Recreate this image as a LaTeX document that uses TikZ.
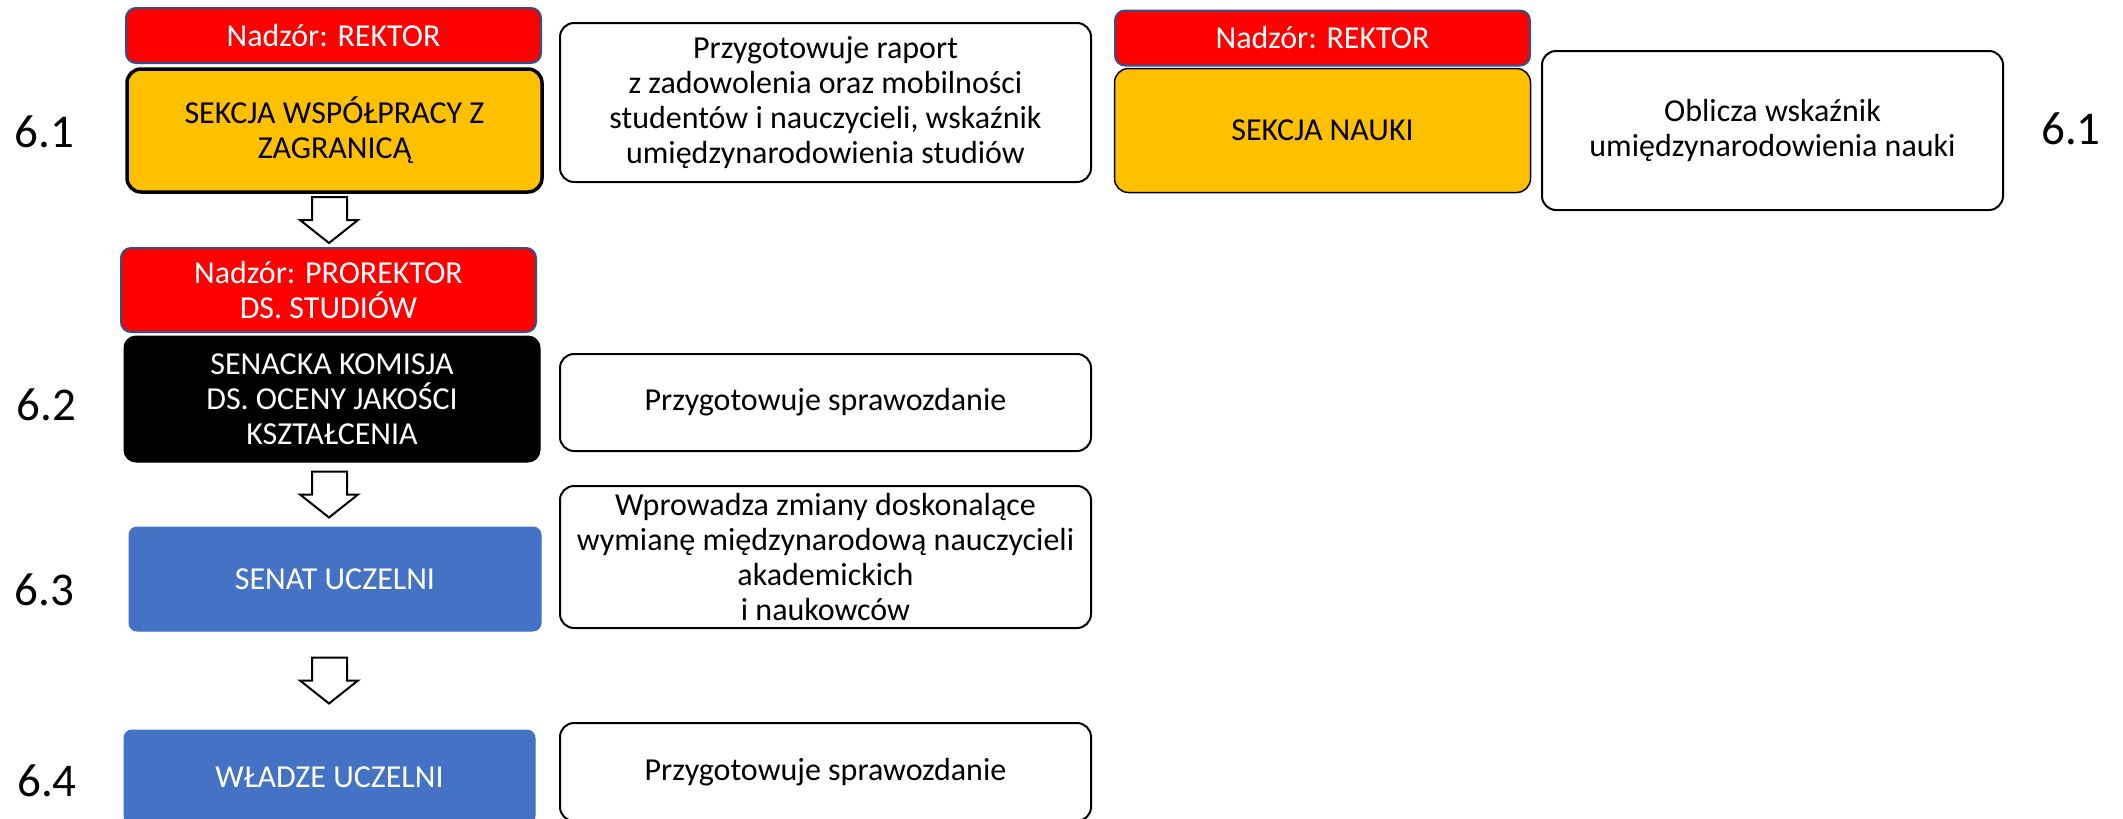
\documentclass[tikz,border=0pt]{standalone}
\usepackage{fontspec}
\setmainfont{Carlito}
\usetikzlibrary{calc}
\definecolor{myred}{HTML}{FF0000}
\definecolor{myyellow}{HTML}{FFC000}
\definecolor{myblue}{HTML}{4472C4}
\definecolor{redborder}{HTML}{2F528F}
\newcommand\blockarrow[2]{%
  \draw[barrowst] let \p1=($(#1.south)!0.5!(#2.north)$) in
    (312pt,\y1+23pt) -- (347pt,\y1+23pt) -- (347pt,\y1) -- (358pt,\y1)
    -- (329pt,\y1-23pt) -- (300pt,\y1) -- (312pt,\y1) -- cycle;}
\begin{document}
\begin{tikzpicture}[x=1pt,y=-1pt,
  base/.style={rectangle, inner sep=0pt, outer sep=0pt, align=center,
    font=\fontsize{32}{35}\selectfont},
  supbox/.style={base, fill=myred, draw=redborder, line width=2pt, rounded corners=10pt, text=white},
  unitbox/.style={base, fill=myyellow, draw=black, rounded corners=14pt},
  commbox/.style={base, fill=black, draw=black, line width=1pt, rounded corners=12pt, text=white},
  senbox/.style={base, fill=myblue, draw=myblue, line width=1pt, rounded corners=8pt, text=white},
  taskbox/.style={base, fill=white, draw=black, line width=2pt, rounded corners=14pt},
  numlabel/.style={inner sep=0pt, font=\fontsize{47}{50}\selectfont},
  barrowst/.style={draw=black, fill=white, line width=2pt, line join=miter}]
\useasboundingbox (0,0) rectangle (2123,819);
\clip (0,0) rectangle (2123,819);
\fill[white] (0,0) rectangle (2123,819);

% left column
\node[supbox, minimum width=415pt, minimum height=55pt] (r1) at (333.5,35.5) {Nadzór: REKTOR};
\node[unitbox, line width=3.5pt, minimum width=415pt, minimum height=123pt] (y1) at (334.5,130.5) {SEKCJA WSPÓŁPRACY Z\\ZAGRANICĄ};
\node[supbox, minimum width=415pt, minimum height=84pt] (r2) at (328.5,290) {Nadzór: PROREKTOR\\DS. STUDIÓW};
\node[commbox, minimum width=416pt, minimum height=126pt] (k) at (332,399) {SENACKA KOMISJA\\DS. OCENY JAKOŚCI\\KSZTAŁCENIA};
\node[senbox, minimum width=412pt, minimum height=104pt] (s) at (335,579) {SENAT UCZELNI};
\node[senbox, minimum width=411pt, minimum height=94pt] (w) at (329.5,777) {WŁADZE UCZELNI};

% task boxes
\node[taskbox, minimum width=531pt, minimum height=159pt] (t1) at (825.5,102.5) {Przygotowuje raport\\z zadowolenia oraz mobilności\\studentów i nauczycieli, wskaźnik\\umiędzynarodowienia studiów};
\node[taskbox, minimum width=531pt, minimum height=97pt] (t2) at (825.5,402.5) {Przygotowuje sprawozdanie};
\node[taskbox, minimum width=531pt, minimum height=142pt] (t3) at (825.5,557) {Wprowadza zmiany doskonalące\\wymianę międzynarodową nauczycieli\\akademickich\\i naukowców};
\node[taskbox, minimum width=531pt, minimum height=98pt] (t4) at (825.5,772) {Przygotowuje sprawozdanie};

% right column
\node[supbox, minimum width=415pt, minimum height=55pt] (rr) at (1322.5,38) {Nadzór: REKTOR};
\node[unitbox, line width=1.5pt, minimum width=416pt, minimum height=124pt] (yr) at (1322.5,130.5) {SEKCJA NAUKI};
\node[taskbox, minimum width=461pt, minimum height=159pt] (tr) at (1772.5,130.5) {Oblicza wskaźnik\\umiędzynarodowienia nauki};

% number labels
\node[numlabel] (n1) at (44.5,132) {6.1};
\node[numlabel] (n2) at (46.5,405) {6.2};
\node[numlabel] (n3) at (44.5,590) {6.3};
\node[numlabel] (n4) at (47,781) {6.4};
\node[numlabel] (n5) at (2071,128.5) {6.1};

% block arrows
\blockarrow{y1}{r2}
\blockarrow{k}{s}
\blockarrow{s}{w}
\end{tikzpicture}
\end{document}
